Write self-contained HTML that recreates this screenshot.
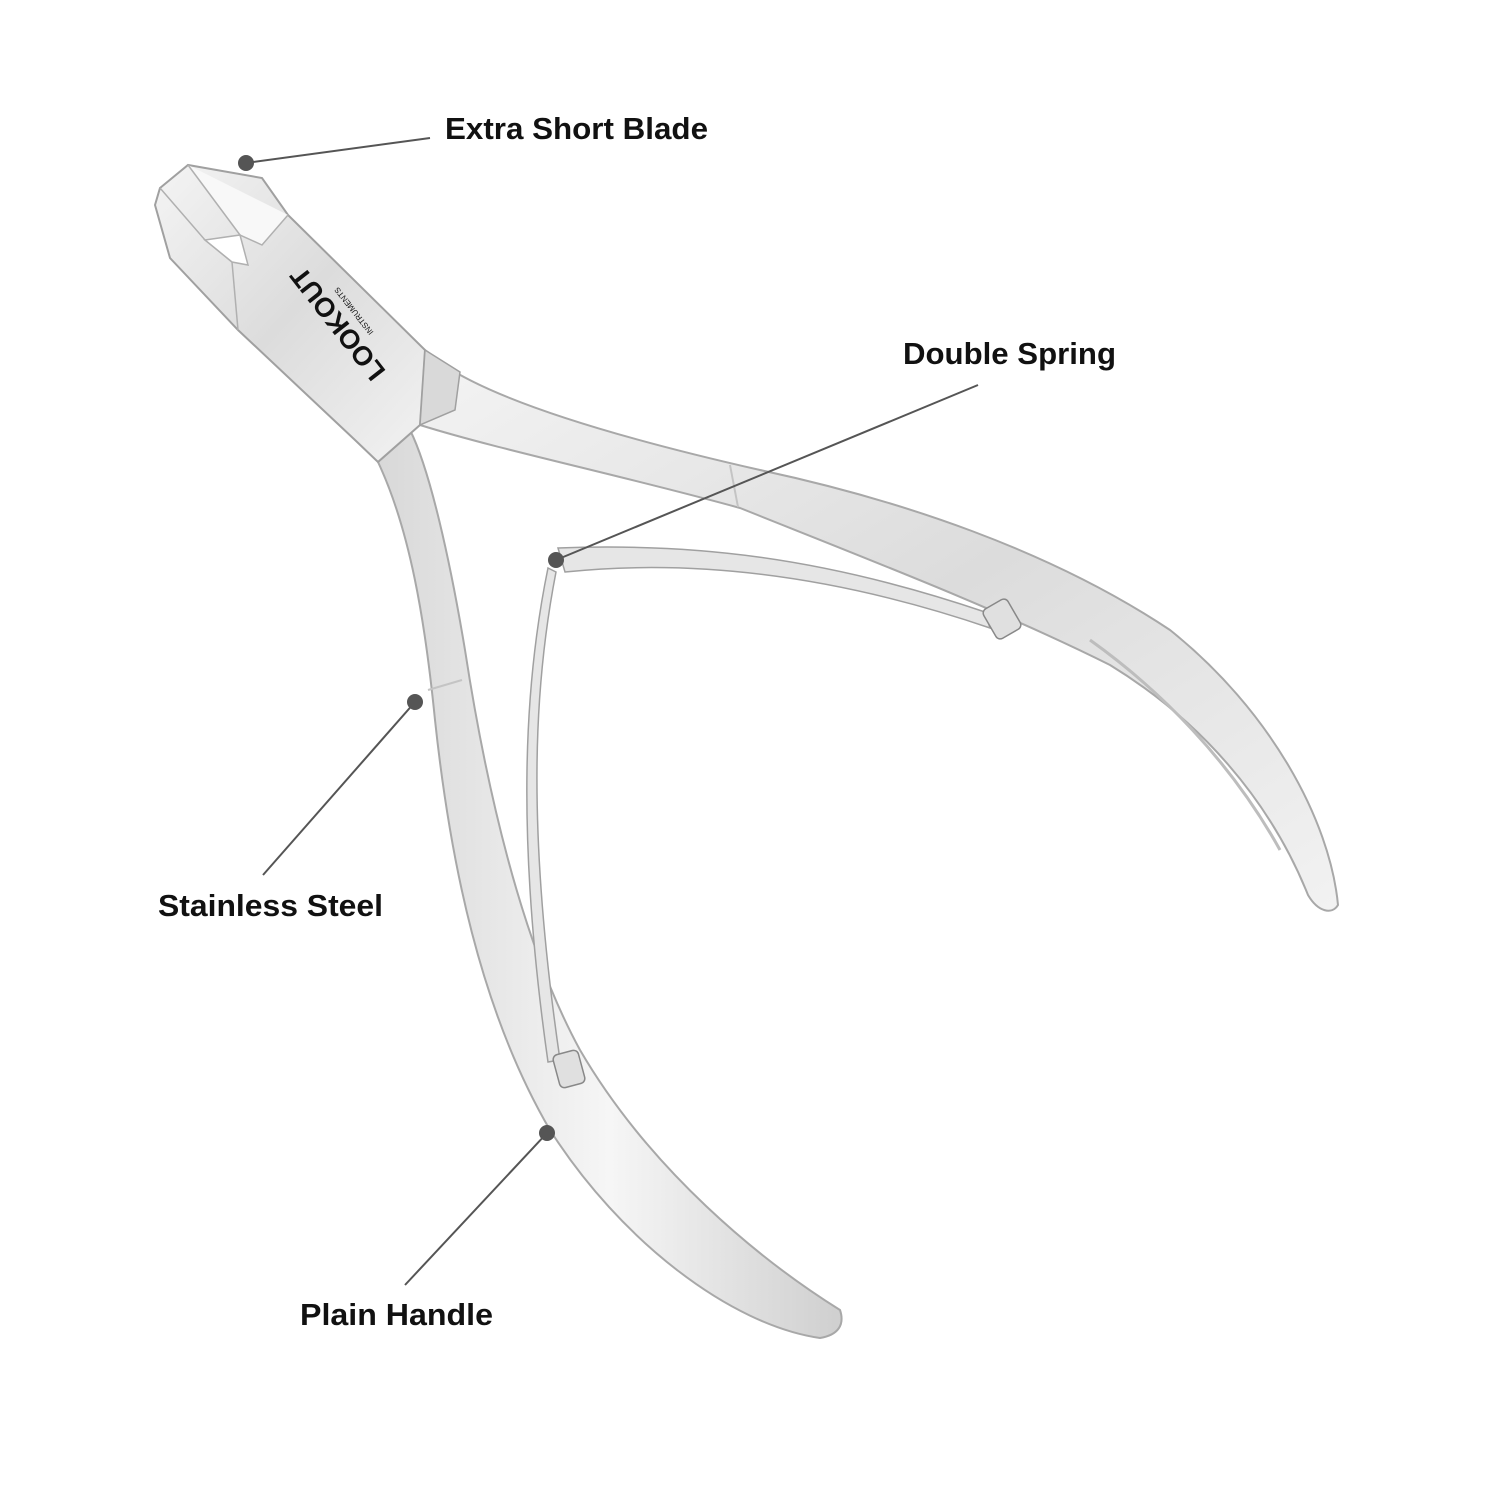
<!DOCTYPE html>
<html><head><meta charset="utf-8"><style>
html,body{margin:0;padding:0;background:#fff}
svg{display:block}
text{font-family:"Liberation Sans",Arial,sans-serif;font-weight:bold;fill:#111}
</style></head><body>
<svg width="1500" height="1500" viewBox="0 0 1500 1500" xmlns="http://www.w3.org/2000/svg">
<defs>
<linearGradient id="m1" x1="0" y1="0" x2="1" y2="1">
<stop offset="0" stop-color="#f4f4f4"/><stop offset="0.5" stop-color="#dcdcdc"/><stop offset="1" stop-color="#f2f2f2"/></linearGradient>
<linearGradient id="m2" x1="0" y1="0" x2="1" y2="0">
<stop offset="0" stop-color="#d8d8d8"/><stop offset="0.5" stop-color="#f6f6f6"/><stop offset="1" stop-color="#cfcfcf"/></linearGradient>
</defs>

<!-- upper/right handle -->
<path d="M425,350 L455,372 C520,410 650,445 760,470 C900,500 1050,550 1170,630 C1270,710 1330,820 1338,905 C1332,915 1318,912 1308,895 C1270,800 1200,720 1110,665 C1000,610 870,560 740,508 C620,475 500,450 420,425 Z" fill="url(#m1)" stroke="#a8a8a8" stroke-width="2"/>
<path d="M730,465 L738,507" stroke="#c4c4c4" stroke-width="2"/>
<path d="M1090,640 C1160,690 1230,760 1280,850" stroke="#bdbdbd" stroke-width="3" fill="none"/>

<!-- lower/left handle -->
<path d="M378,462 L410,430 C430,470 450,560 465,650 C485,780 520,940 580,1050 C650,1170 760,1260 840,1310 C845,1325 838,1335 820,1338 C730,1325 620,1240 550,1130 C480,1010 450,860 435,720 C425,620 410,530 378,462 Z" fill="url(#m2)" stroke="#a8a8a8" stroke-width="2"/>
<path d="M428,690 L462,680" stroke="#c4c4c4" stroke-width="2"/>

<!-- springs -->
<path d="M558,548 L565,572 C680,560 820,570 990,628 L985,612 C820,556 690,543 558,548 Z" fill="#e6e6e6" stroke="#a0a0a0" stroke-width="1.5"/>
<path d="M548,568 L556,572 C535,680 525,820 560,1060 L548,1062 C515,830 525,680 548,568 Z" fill="#e6e6e6" stroke="#a0a0a0" stroke-width="1.5"/>
<rect x="988" y="602" width="28" height="34" rx="5" fill="#e0e0e0" stroke="#888" stroke-width="1.5" transform="rotate(-30 1002 619)"/>
<rect x="556" y="1052" width="26" height="34" rx="5" fill="#e0e0e0" stroke="#888" stroke-width="1.5" transform="rotate(-15 569 1069)"/>

<!-- head -->
<path d="M160,188 L188,165 L262,178 L288,215 L425,350 L420,425 L378,462 L355,440 L238,330 L170,258 L155,205 Z" fill="url(#m1)" stroke="#a0a0a0" stroke-width="2"/>
<path d="M188,165 L240,235 L262,245 L288,215" fill="#f8f8f8" stroke="#b0b0b0" stroke-width="1.5"/>
<path d="M160,188 L205,240 L232,262 L238,330" fill="none" stroke="#b0b0b0" stroke-width="1.5"/>
<path d="M205,240 L240,235 L248,265 L232,262 Z" fill="#fff" stroke="#b0b0b0" stroke-width="1.5"/>
<path d="M425,350 L460,372 L455,410 L420,425 Z" fill="#d9d9d9" stroke="#a0a0a0" stroke-width="1.5"/>
<g transform="translate(345,318) rotate(-128)" fill="#222">
<text x="0" y="0" font-size="27" text-anchor="middle" font-family="Liberation Serif,serif">LOOKOUT</text>
<text x="0" y="14" font-size="8" text-anchor="middle" font-family="Liberation Serif,serif" style="font-weight:normal">INSTRUMENTS</text>
</g>

<!-- callouts -->
<g stroke="#555" stroke-width="2">
<line x1="246" y1="163" x2="430" y2="138"/>
<line x1="556" y1="560" x2="978" y2="385"/>
<line x1="415" y1="702" x2="263" y2="875"/>
<line x1="547" y1="1133" x2="405" y2="1285"/>
</g>
<g fill="#555">
<circle cx="246" cy="163" r="8"/>
<circle cx="556" cy="560" r="8"/>
<circle cx="415" cy="702" r="8"/>
<circle cx="547" cy="1133" r="8"/>
</g>
<text x="445" y="139" font-size="31" textLength="263" lengthAdjust="spacingAndGlyphs">Extra Short Blade</text>
<text x="903" y="364" font-size="31" textLength="213" lengthAdjust="spacingAndGlyphs">Double Spring</text>
<text x="158" y="916" font-size="31" textLength="225" lengthAdjust="spacingAndGlyphs">Stainless Steel</text>
<text x="300" y="1325" font-size="31" textLength="193" lengthAdjust="spacingAndGlyphs">Plain Handle</text>
</svg>
</body></html>
